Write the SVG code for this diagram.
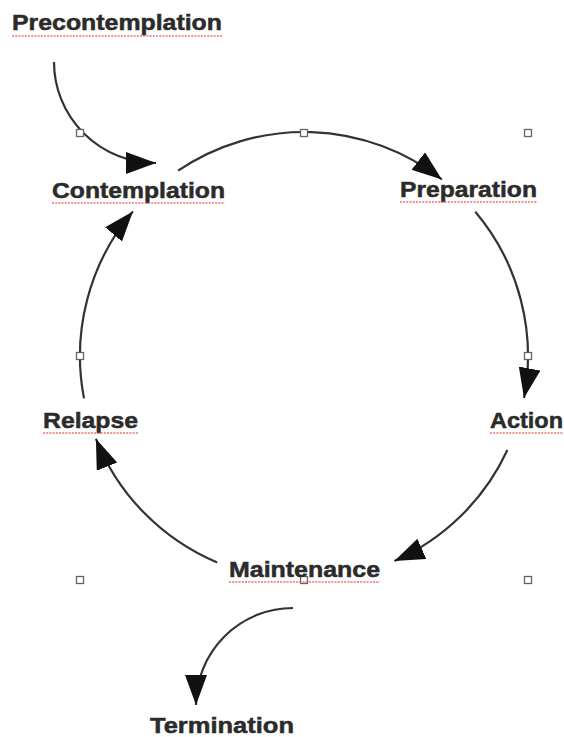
<svg xmlns="http://www.w3.org/2000/svg" width="564" height="737" viewBox="0 0 564 737">
  <style>
    .lbl { font-family: "Liberation Sans", Arial, sans-serif; font-weight: bold; font-size: 22px; fill: #2b2b2b; stroke: #2b2b2b; stroke-width: 0.5; }
    .sq { stroke: #e05050; stroke-width: 1.6; stroke-dasharray: 2 1.2; fill: none; opacity: 0.8; }
    .con { fill: none; stroke: #333; stroke-width: 2.2; marker-end: url(#ah); }
    .hd { fill: #fff; stroke: #666; stroke-width: 1.3; }
  </style>
  <defs>
    <marker id="ah" markerUnits="userSpaceOnUse" viewBox="0 0 32 24" markerWidth="32" markerHeight="24" refX="30" refY="11" orient="auto">
      <path d="M0,0 L30,11 L0,22 Z" fill="#111"/>
    </marker>
  </defs>
  <rect width="564" height="737" fill="#fff"/>

  <g id="connectors">
    <path class="con" d="M54,62 A102,101 0 0 0 156,163"/>
    <path class="con" d="M178.1,170.7 A224,224 0 0 1 441.9,179.5"/>
    <path class="con" d="M475.3,211.7 A224,224 0 0 1 524,398"/>
    <path class="con" d="M507.4,450 A224,224 0 0 1 394.4,561"/>
    <path class="con" d="M217.2,562.5 A224,224 0 0 1 95.9,438.8"/>
    <path class="con" d="M84,398.4 A224,224 0 0 1 132.9,211.4"/>
    <path class="con" d="M293,608 A97,97 0 0 0 196,705"/>
  </g>

  <g id="handles">
    <rect class="hd" x="76.5" y="129.5" width="7" height="7"/>
    <rect class="hd" x="300.5" y="129.5" width="7" height="7"/>
    <rect class="hd" x="524.5" y="129.5" width="7" height="7"/>
    <rect class="hd" x="76.5" y="352.5" width="7" height="7"/>
    <rect class="hd" x="524.5" y="352.5" width="7" height="7"/>
    <rect class="hd" x="76.5" y="576.5" width="7" height="7"/>
    <rect class="hd" x="300.5" y="576.5" width="7" height="7"/>
    <rect class="hd" x="524.5" y="576.5" width="7" height="7"/>
  </g>

  <g id="precontemplation">
    <text class="lbl" x="12" y="30" textLength="210" lengthAdjust="spacingAndGlyphs">Precontemplation</text>
    <line class="sq" x1="12" y1="36" x2="222" y2="36"/>
  </g>
  <g id="contemplation">
    <text class="lbl" x="52" y="198" textLength="173" lengthAdjust="spacingAndGlyphs">Contemplation</text>
    <line class="sq" x1="52" y1="203" x2="225" y2="203"/>
  </g>
  <g id="preparation">
    <text class="lbl" x="400" y="197" textLength="137" lengthAdjust="spacingAndGlyphs">Preparation</text>
    <line class="sq" x1="400" y1="202" x2="537" y2="202"/>
  </g>
  <g id="action">
    <text class="lbl" x="490" y="428" textLength="73" lengthAdjust="spacingAndGlyphs">Action</text>
    <line class="sq" x1="490" y1="433" x2="563" y2="433"/>
  </g>
  <g id="relapse">
    <text class="lbl" x="43" y="428" textLength="95" lengthAdjust="spacingAndGlyphs">Relapse</text>
    <line class="sq" x1="43" y1="433" x2="138" y2="433"/>
  </g>
  <g id="maintenance">
    <text class="lbl" x="229" y="577" textLength="151" lengthAdjust="spacingAndGlyphs">Maintenance</text>
    <line class="sq" x1="229" y1="582" x2="380" y2="582"/>
  </g>
  <g id="termination">
    <text class="lbl" x="150" y="733" textLength="144" lengthAdjust="spacingAndGlyphs">Termination</text>
  </g>
</svg>
